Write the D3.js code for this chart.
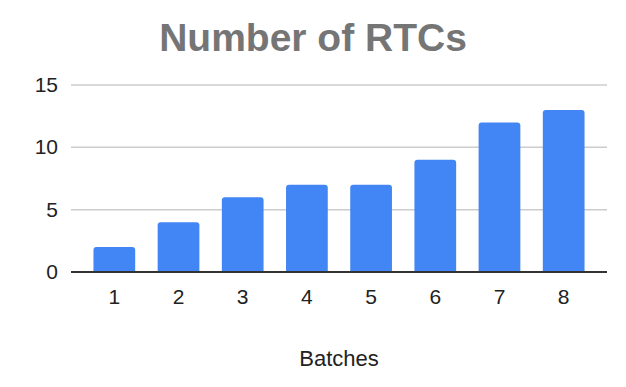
<!DOCTYPE html>
<html>
<head>
<meta charset="utf-8">
<script src="https://cdn.jsdelivr.net/npm/d3@7"></script>
<style>
  body { margin: 0; background: #fff; }
  text { font-family: "Liberation Sans", Arial, sans-serif; }
</style>
</head>
<body>
<script>
const batches = ['1', '2', '3', '4', '5', '6', '7', '8'];
const rtcs = [2, 4, 6, 7, 7, 9, 12, 13];
const yTicks = [0, 5, 10, 15];

const W = 626, H = 387;
const margin = { top: 85, right: 19, bottom: 115, left: 71 };
const width = W - margin.left - margin.right;
const height = H - margin.top - margin.bottom;

const svg = d3.select('body').append('svg')
  .attr('width', W)
  .attr('height', H);

const g = svg.append('g')
  .attr('transform', `translate(${margin.left},${margin.top})`);

const x = d3.scaleBand().domain(batches).range([0, width])
  .paddingInner(0.35).paddingOuter(0.35);
const y = d3.scaleLinear().domain([0, 15]).range([height, 0]);

// gridlines
g.selectAll('.grid').data(yTicks.filter(d => d > 0)).enter().append('line')
  .attr('x1', 0).attr('x2', width)
  .attr('y1', d => y(d)).attr('y2', d => y(d))
  .attr('stroke', '#cccccc').attr('stroke-width', 1.5);

// y labels
g.selectAll('.ylab').data(yTicks).enter().append('text')
  .attr('x', -13).attr('y', d => y(d)).attr('dy', '0.34em')
  .attr('text-anchor', 'end').attr('font-size', '21px').attr('fill', '#222')
  .text(d => d);

// bars with rounded tops
const r = 3;
g.selectAll('.bar').data(rtcs).enter().append('path')
  .attr('fill', '#4285f4')
  .attr('d', (d, i) => {
    const x0 = x(batches[i]), w = x.bandwidth(), y0 = y(d), b = y(0);
    return `M${x0},${b}V${y0 + r}Q${x0},${y0} ${x0 + r},${y0}H${x0 + w - r}Q${x0 + w},${y0} ${x0 + w},${y0 + r}V${b}Z`;
  });

// baseline
g.append('line')
  .attr('x1', 0).attr('x2', width)
  .attr('y1', y(0)).attr('y2', y(0))
  .attr('stroke', '#333').attr('stroke-width', 2);

// x labels
g.selectAll('.xlab').data(batches).enter().append('text')
  .attr('x', d => x(d) + x.bandwidth() / 2).attr('y', height + 32)
  .attr('text-anchor', 'middle').attr('font-size', '21px').attr('fill', '#222')
  .text(d => d);

// axis title
svg.append('text')
  .attr('x', 339).attr('y', 366)
  .attr('text-anchor', 'middle').attr('font-size', '22px').attr('fill', '#222')
  .text('Batches');

// chart title
svg.append('text')
  .attr('x', 313).attr('y', 51)
  .attr('text-anchor', 'middle').attr('font-size', '39px').attr('font-weight', 'bold')
  .attr('fill', '#757575')
  .text('Number of RTCs');
</script>
</body>
</html>
